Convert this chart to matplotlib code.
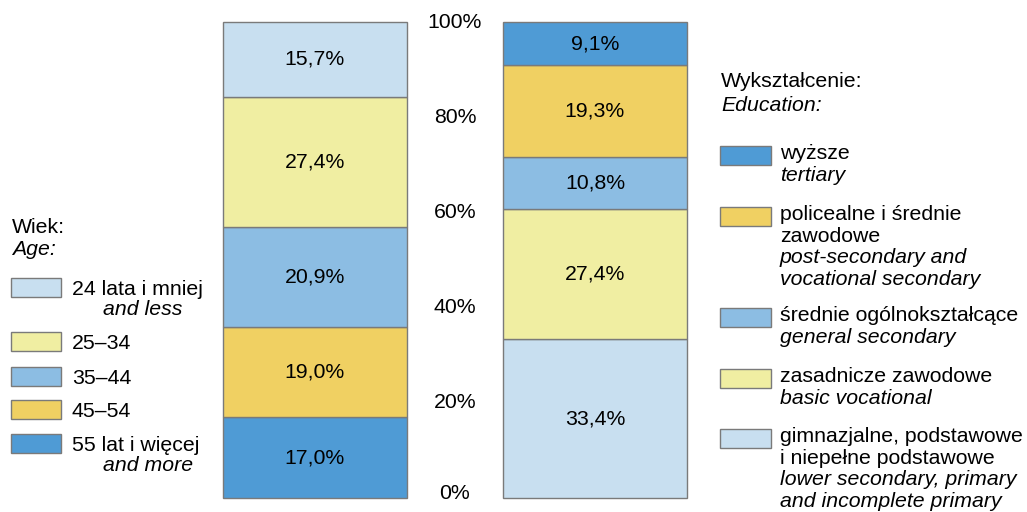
import matplotlib.pyplot as plt
from matplotlib.patches import Rectangle

plt.rcParams['font.family'] = ['Liberation Sans', 'DejaVu Sans']

# Data
age_pl = ['55 lat i więcej', '45–54', '35–44', '25–34', '24 lata i mniej']
age_en = ['and more', '', '', '', 'and less']
age_values = [17.0, 19.0, 20.9, 27.4, 15.7]

edu_values = [33.4, 27.4, 10.8, 19.3, 9.1]
edu_labels = [
    ['gimnazjalne, podstawowe', 'i niepełne podstawowe'],
    ['zasadnicze zawodowe'],
    ['średnie ogólnokształcące'],
    ['policealne i średnie', 'zawodowe'],
    ['wyższe'],
]
edu_labels_en = [
    ['lower secondary, primary', 'and incomplete primary'],
    ['basic vocational'],
    ['general secondary'],
    ['post-secondary and', 'vocational secondary'],
    ['tertiary'],
]
y_ticks = [0, 20, 40, 60, 80, 100]

colors = ['#4f9bd5', '#f0d062', '#8cbde3', '#f0eea2', '#c8dff0']
edu_colors = ['#c8dff0', '#f0eea2', '#8cbde3', '#f0d062', '#4f9bd5']
edge = '#7a7a7a'
FS = 15.3

W, H = 1027, 512
fig = plt.figure(figsize=(W / 100, H / 100), dpi=100)
ax = fig.add_axes([223 / W, (H - 498) / H, 464 / W, 476 / H])
bw = 184 / 280


def stack(x, vals, cols):
    bottom = 0
    for v, c in zip(vals, cols):
        bars = ax.bar(x, v, bottom=bottom, width=bw, color=c, edgecolor=edge, linewidth=1)
        for b in bars:
            b.set_clip_on(False)
        ax.text(x, bottom + v / 2, f'{v:.1f}%'.replace('.', ','),
                ha='center', va='center', fontsize=FS)
        bottom += v


stack(0, age_values, colors)
stack(1, edu_values, edu_colors)
for t in y_ticks:
    ax.text(0.5, t + (1 if t == 0 else 0), f'{t}%', ha='center', va='center', fontsize=FS)
ax.set_xlim(-bw / 2, 1 + bw / 2)
ax.set_ylim(0, 100)
ax.axis('off')


def ftext(x, y, s, italic=False):
    fig.text(x / W, 1 - y / H, s, fontsize=FS, va='baseline', ha='left',
             style='italic' if italic else 'normal')


def box(x0, y0, x1, y1, c):
    fig.add_artist(Rectangle((x0 / W, 1 - y1 / H), (x1 - x0) / W, (y1 - y0) / H,
                             transform=fig.transFigure, facecolor=c,
                             edgecolor=edge, linewidth=1))


# Left legend (age)
ftext(12, 233, 'Wiek:')
ftext(12, 255, 'Age:', italic=True)
age_box_top = [434, 400, 367, 332, 278]
for pl, en, c, top in zip(age_pl, age_en, colors, age_box_top):
    box(11, top, 61, top + 19, c)
    ftext(72, top + 17, pl)
    if en:
        ftext(103, top + 37, en, italic=True)

# Right legend (education)
ftext(721, 87, 'Wykształcenie:')
ftext(721, 111, 'Education:', italic=True)
edu_box_top = [429, 369, 308, 207, 146]
for pl, en, c, top in zip(edu_labels, edu_labels_en, edu_colors, edu_box_top):
    box(720, top, 771, top + 19, c)
    yb = top + 13
    for line in pl:
        ftext(780, yb, line)
        yb += 21.7
    for line in en:
        ftext(780, yb, line, italic=True)
        yb += 21.7

fig.savefig('out.png', dpi=100)
